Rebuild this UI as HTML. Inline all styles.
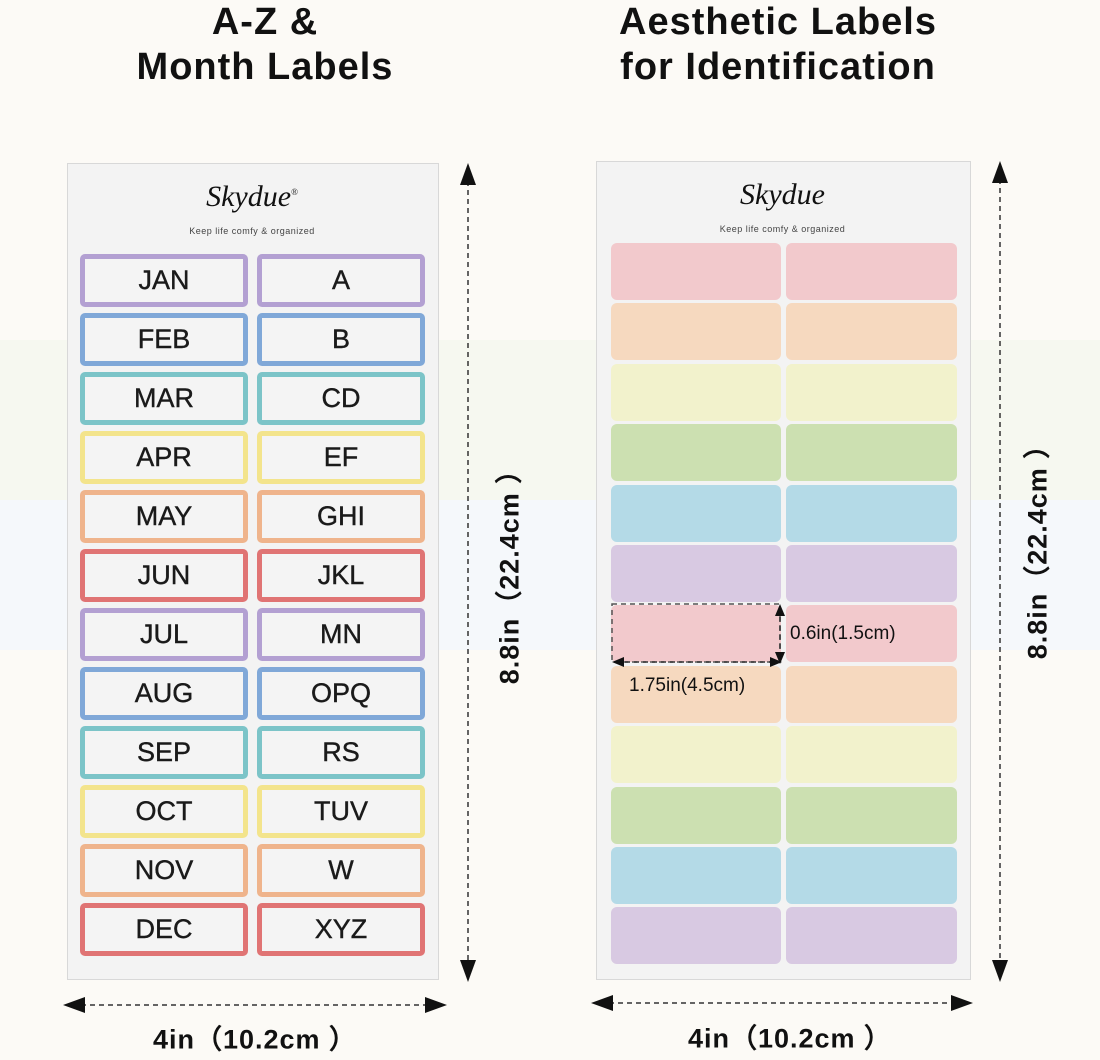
<!DOCTYPE html><html><head><style>
body{margin:0;width:1100px;height:1060px;background:#fcfaf6;position:relative;overflow:hidden;font-family:"Liberation Sans",sans-serif;color:#111}
.a{position:absolute}
.t{font-weight:bold;font-size:38px;text-align:center;line-height:45px;letter-spacing:1px}
.card{background:#f3f3f3;border:1px solid #d8d8d8}
.lb{position:absolute;box-sizing:border-box;border:5px solid;border-radius:5px;background:#f4f4f4;font-size:27px;text-align:center;line-height:43px;color:#1a1a1a;-webkit-text-stroke:0.4px #1a1a1a}
.pl{position:absolute;border-radius:6px}
.logo{font-family:"Liberation Serif",serif;font-style:italic;font-size:30px;text-align:center}
.sub{font-size:9px;text-align:center;color:#444;letter-spacing:.5px}
.dim{font-weight:bold;font-size:27px;white-space:nowrap;letter-spacing:1px}
</style></head><body>
<div class="a" style="left:0;top:340px;width:1100px;height:160px;background:#f6f8f0"></div>
<div class="a" style="left:0;top:500px;width:1100px;height:150px;background:#f5f8fb"></div>
<div class="a t" style="left:65px;top:0;width:400px">A-Z &amp;<br>Month Labels</div>
<div class="a t" style="left:578px;top:0;width:400px">Aesthetic Labels<br>for Identification</div>
<div class="a card" style="left:67px;top:163px;width:370px;height:815px"></div>
<div class="a card" style="left:596px;top:161px;width:373px;height:817px"></div>
<div class="a logo" style="left:67px;top:180px;width:370px">Skydue<sup style="font-size:9px">®</sup></div>
<div class="a sub" style="left:67px;top:226px;width:370px">Keep life comfy &amp; organized</div>
<div class="a logo" style="left:596px;top:178px;width:373px">Skydue</div>
<div class="a sub" style="left:596px;top:224px;width:373px">Keep life comfy &amp; organized</div>
<div id="L"></div>
<svg class="a" style="left:0;top:0" width="1100" height="1060">
<g stroke="#333" stroke-width="1.5" stroke-dasharray="5,4" fill="none">
<line x1="468" y1="172" x2="468" y2="972"/><line x1="1000" y1="170" x2="1000" y2="972"/>
<line x1="72" y1="1005" x2="438" y2="1005"/><line x1="600" y1="1003" x2="963" y2="1003"/>
<path d="M612 604H780V662H612Z" stroke="#555"/>
<line x1="780" y1="608" x2="780" y2="660"/><line x1="616" y1="662" x2="776" y2="662"/>
</g>
<g fill="#111">
<path d="M468 163l-8 22h16z"/><path d="M468 982l-8-22h16z"/>
<path d="M1000 161l-8 22h16z"/><path d="M1000 982l-8-22h16z"/>
<path d="M63 1005l22-8v16z"/><path d="M447 1005l-22-8v16z"/>
<path d="M591 1003l22-8v16z"/><path d="M973 1003l-22-8v16z"/>
<path d="M780 604l-5 12h10z"/><path d="M780 664l-5-12h10z"/>
<path d="M612 662l12-5v10z"/><path d="M782 662l-12-5v10z"/>
</g></svg>
<div class="a" style="left:790px;top:623px;font-size:19px">0.6in(1.5cm)</div>
<div class="a" style="left:629px;top:675px;font-size:19px">1.75in(4.5cm)</div>
<div class="a dim" style="left:255px;top:1037px;transform:translate(-50%,-50%)">4in（10.2cm ）</div>
<div class="a dim" style="left:790px;top:1036px;transform:translate(-50%,-50%)">4in（10.2cm ）</div>
<div class="a dim" style="left:507px;top:570px;transform:translate(-50%,-50%) rotate(-90deg)">8.8in（22.4cm ）</div>
<div class="a dim" style="left:1035px;top:545px;transform:translate(-50%,-50%) rotate(-90deg)">8.8in（22.4cm ）</div>
<script>
var m=["JAN","FEB","MAR","APR","MAY","JUN","JUL","AUG","SEP","OCT","NOV","DEC"],
z=["A","B","CD","EF","GHI","JKL","MN","OPQ","RS","TUV","W","XYZ"],
c=["#b3a0d2","#80a8d8","#7cc4c8","#f3e48c","#efb48c","#e07474"],
p=["#f2c9cc","#f6d9bf","#f2f2cc","#cce0b1","#b4dae7","#d8c9e2"],h="";
for(var i=0;i<12;i++){var y=254+i*59,col=c[i%6];
h+='<div class="lb" style="left:80px;top:'+y+'px;width:168px;height:53px;border-color:'+col+'">'+m[i]+'</div>';
h+='<div class="lb" style="left:257px;top:'+y+'px;width:168px;height:53px;border-color:'+col+'">'+z[i]+'</div>';
var y2=243+i*60.4;
h+='<div class="pl" style="left:611px;top:'+y2+'px;width:170px;height:57px;background:'+p[i%6]+'"></div>';
h+='<div class="pl" style="left:786px;top:'+y2+'px;width:171px;height:57px;background:'+p[i%6]+'"></div>';}
document.getElementById("L").innerHTML=h;
</script>
</body></html>
